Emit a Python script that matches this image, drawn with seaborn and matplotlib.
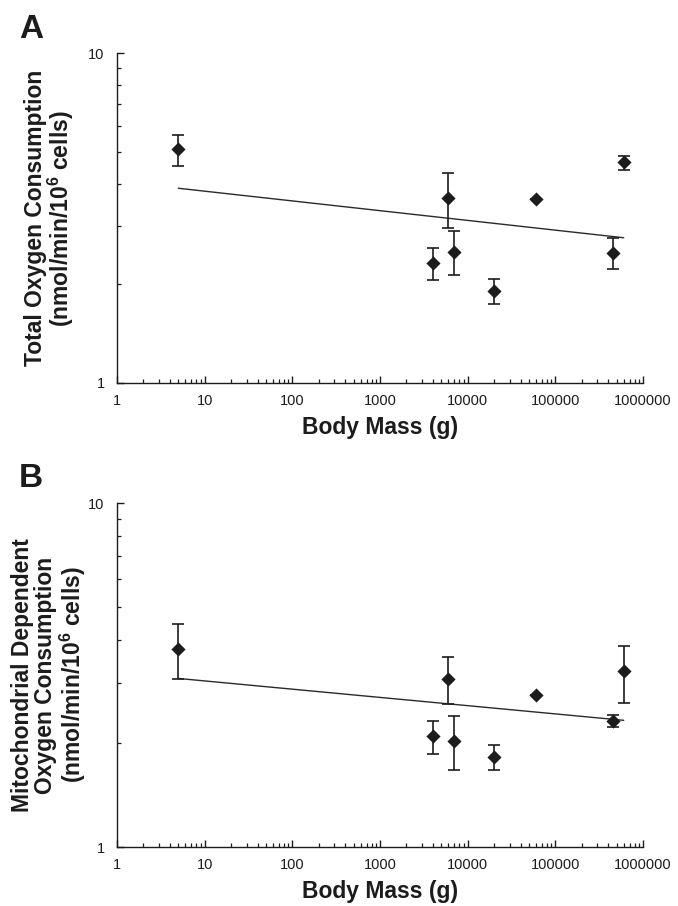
import numpy as np
import pandas as pd
import matplotlib
matplotlib.use("Agg")
import matplotlib.pyplot as plt
import seaborn as sns
from matplotlib.ticker import LogLocator, NullFormatter, FuncFormatter

# ---- data ----
body_mass = [5, 4000, 6000, 7000, 20000, 60000, 450000, 600000]
total_o2 = [5.10, 2.31, 3.64, 2.50, 1.90, 3.60, 2.48, 4.66]
total_err = [0.55, 0.26, 0.69, 0.38, 0.17, 0.0, 0.27, 0.23]
mito_o2 = [3.76, 2.10, 3.08, 2.04, 1.83, 2.76, 2.33, 3.24]
mito_err = [0.69, 0.23, 0.48, 0.36, 0.15, 0.0, 0.09, 0.61]

x_ticks = [1, 10, 100, 1000, 10000, 100000, 1000000]
y_ticks = [1, 10]
panel_letters = ["A", "B"]
y_labels = [
    "Total Oxygen Consumption\n(nmol/min/10$^{\\mathbf{6}}$ cells)",
    "Mitochondrial Dependent\nOxygen Consumption\n(nmol/min/10$^{\\mathbf{6}}$ cells)",
]
x_label = "Body Mass (g)"

sns.set_theme(style="ticks")
plt.rcParams["font.family"] = ["Liberation Sans", "DejaVu Sans"]
plt.rcParams["mathtext.fontset"] = "custom"
plt.rcParams["mathtext.rm"] = "Liberation Sans"
plt.rcParams["mathtext.bf"] = "Liberation Sans:bold"

INK = "#1c1c1c"

fig = plt.figure(figsize=(6.78, 9.06), dpi=100)
fig.patch.set_facecolor("white")

axes_pos = [
    [0.1726, 0.5773, 0.776, 0.3642],
    [0.1726, 0.0651, 0.776, 0.3797],
]
label_pos = [(0.0737, 0.759), (0.073, 0.255)]
label_ls = [0.95, 1.0]
letter_pos = [(0.046, 0.967), (0.046, 0.4724)]
series = [(total_o2, total_err), (mito_o2, mito_err)]

for i in range(2):
    ax = fig.add_axes(axes_pos[i])
    ax.set_facecolor("white")
    vals, errs = series[i]
    df = pd.DataFrame({"mass": body_mass, "o2": vals, "err": errs})

    # power-law fit (linear in log-log)
    slope, icpt = np.polyfit(np.log10(df["mass"]), np.log10(df["o2"]), 1)
    xf = np.array([df["mass"].min(), df["mass"].max()])
    fit_df = pd.DataFrame({"mass": xf, "fit": 10 ** (icpt + slope * np.log10(xf))})

    ax.set_xscale("log")
    ax.set_yscale("log")

    sns.lineplot(data=fit_df, x="mass", y="fit", ax=ax, color="#2a2a2a",
                 linewidth=1.0, zorder=2)
    ax.errorbar(df["mass"], df["o2"], yerr=df["err"], fmt="none",
                ecolor=INK, elinewidth=1.2, capsize=4, capthick=1.2, zorder=3)
    sns.scatterplot(data=df, x="mass", y="o2", ax=ax, marker="D", s=52,
                    color=INK, edgecolor=INK, linewidth=0, zorder=4)

    ax.set_xlim(1, 1000000)
    ax.set_ylim(1, 10)
    sns.despine(ax=ax)
    for sp in ["left", "bottom"]:
        ax.spines[sp].set_color(INK)
        ax.spines[sp].set_linewidth(1.0)

    ax.xaxis.set_major_locator(LogLocator(base=10, numticks=10))
    ax.xaxis.set_minor_locator(LogLocator(base=10, subs=np.arange(2, 10), numticks=20))
    ax.yaxis.set_minor_locator(LogLocator(base=10, subs=np.arange(2, 10), numticks=20))
    ax.set_xticks(x_ticks)
    ax.set_yticks(y_ticks)
    fmt = FuncFormatter(lambda v, p: "%d" % round(v))
    ax.xaxis.set_major_formatter(fmt)
    ax.yaxis.set_major_formatter(fmt)
    ax.xaxis.set_minor_formatter(NullFormatter())
    ax.yaxis.set_minor_formatter(NullFormatter())

    ax.tick_params(which="major", direction="in", length=5, width=1.0,
                   color=INK, labelcolor=INK, labelsize=10.5)
    ax.tick_params(which="minor", direction="in", length=3, width=0.9, color=INK)
    ax.tick_params(axis="x", which="major", pad=8)
    ax.tick_params(axis="y", which="major", pad=9)

    ax.set_xlabel(x_label, fontsize=16.5, fontweight="bold", color=INK, labelpad=6)
    ax.set_ylabel("")
    fig.text(label_pos[i][0], label_pos[i][1], y_labels[i], rotation=90,
             ha="center", va="center", ma="center", fontsize=16.5,
             fontweight="bold", color=INK, linespacing=label_ls[i])
    fig.text(letter_pos[i][0], letter_pos[i][1], panel_letters[i], ha="center",
             va="center", fontsize=24, fontweight="bold", color=INK)

fig.savefig("out.png", dpi=100, facecolor="white")
